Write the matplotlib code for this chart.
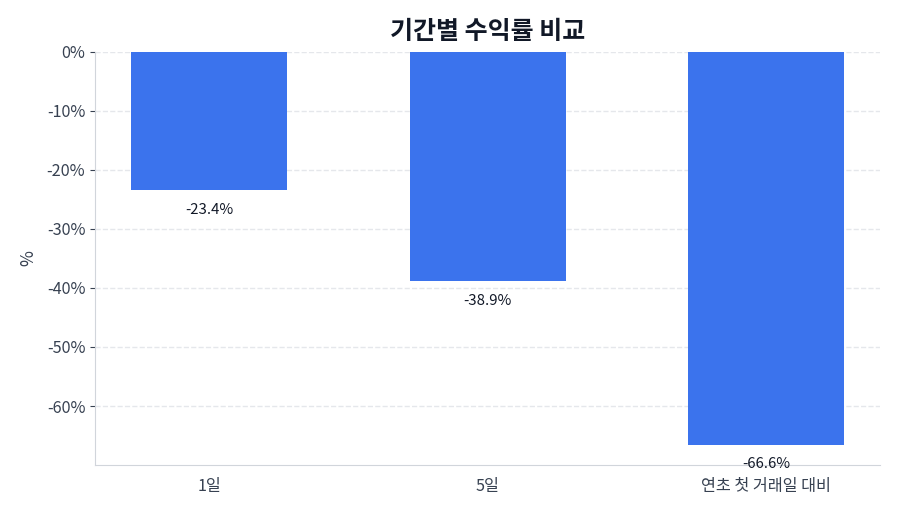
import matplotlib
matplotlib.use("Agg")
import matplotlib.pyplot as plt
from matplotlib.ticker import FuncFormatter

plt.rcParams['font.family'] = ['Noto Sans CJK KR', 'DejaVu Sans']

# data
periods = ['1일', '5일', '연초 첫 거래일 대비']
returns = [-23.4, -38.9, -66.6]

fig = plt.figure(figsize=(9, 5.14), dpi=100)
ax = fig.add_axes([0.1056, 0.0953, 0.8724, 0.8037])

bars = ax.bar(range(len(periods)), returns, width=0.56, color='#3B73ED', zorder=3)
for rect, v in zip(bars, returns):
    ax.annotate(f'{v:.1f}%', (rect.get_x() + rect.get_width() / 2, v),
                xytext=(0, -9), textcoords='offset points',
                ha='center', va='top', fontsize=10.8, color='#111827')

ax.set_xticks(range(len(periods)))
ax.set_xticklabels(periods)
ax.set_xlim(-0.41, 2.41)
ax.set_ylim(-70, 0)
ax.set_yticks([0, -10, -20, -30, -40, -50, -60])
ax.yaxis.set_major_formatter(FuncFormatter(lambda y, _: f'{y:.0f}%'))
ax.tick_params(axis='both', labelsize=11.7, colors='#374151')
ax.tick_params(axis='x', length=0, pad=9)
ax.set_ylabel('%', fontsize=12.5, color='#374151', labelpad=7)

ax.grid(axis='y', linestyle='--', color='#e5e7eb', linewidth=1, zorder=0)
for s in ['top', 'right']:
    ax.spines[s].set_visible(False)
for s in ['left', 'bottom']:
    ax.spines[s].set_color('#d1d5db')

ax.set_title('기간별 수익률 비교', fontsize=18, fontweight='bold', color='#111827', pad=9)

fig.savefig('out.png', dpi=100)
